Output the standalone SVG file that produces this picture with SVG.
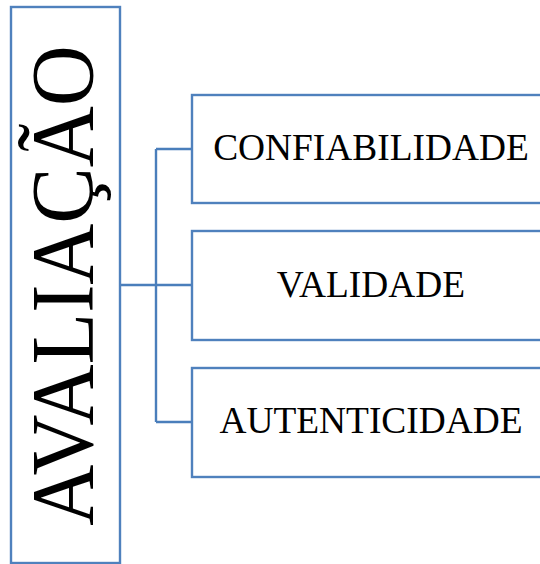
<svg xmlns="http://www.w3.org/2000/svg" width="540" height="564" viewBox="0 0 540 564">
<style>
.box{fill:#fff;stroke:#4F81BD;stroke-width:2.4}
.con{fill:none;stroke:#4A7EBB;stroke-width:2.4}
.t{font-family:"Liberation Serif","Times New Roman",serif;font-size:37.4px;fill:#000;text-anchor:middle}
.big{font-family:"Liberation Serif","Times New Roman",serif;font-size:88px;fill:#000;text-anchor:middle}
</style>
<rect width="540" height="564" fill="#fff"/>
<g id="connectors">
<path class="con" d="M120 285H192M156 149V422M156 149H192M156 422H192"/>
</g>
<g id="avaliacao">
<rect class="box" x="11" y="7" width="109" height="556"/>
<text class="big" transform="translate(92,285.5) rotate(-90) scale(0.96,1)" x="0" y="0">AVALIAÇÃO</text>
</g>
<g id="confiabilidade">
<rect class="box" x="192" y="95" width="360" height="108"/>
<text class="t" x="371" y="160">CONFIABILIDADE</text>
</g>
<g id="validade">
<rect class="box" x="192" y="231" width="360" height="109"/>
<text class="t" x="371" y="297">VALIDADE</text>
</g>
<g id="autenticidade">
<rect class="box" x="192" y="368" width="360" height="109"/>
<text class="t" x="371" y="433">AUTENTICIDADE</text>
</g>
</svg>
